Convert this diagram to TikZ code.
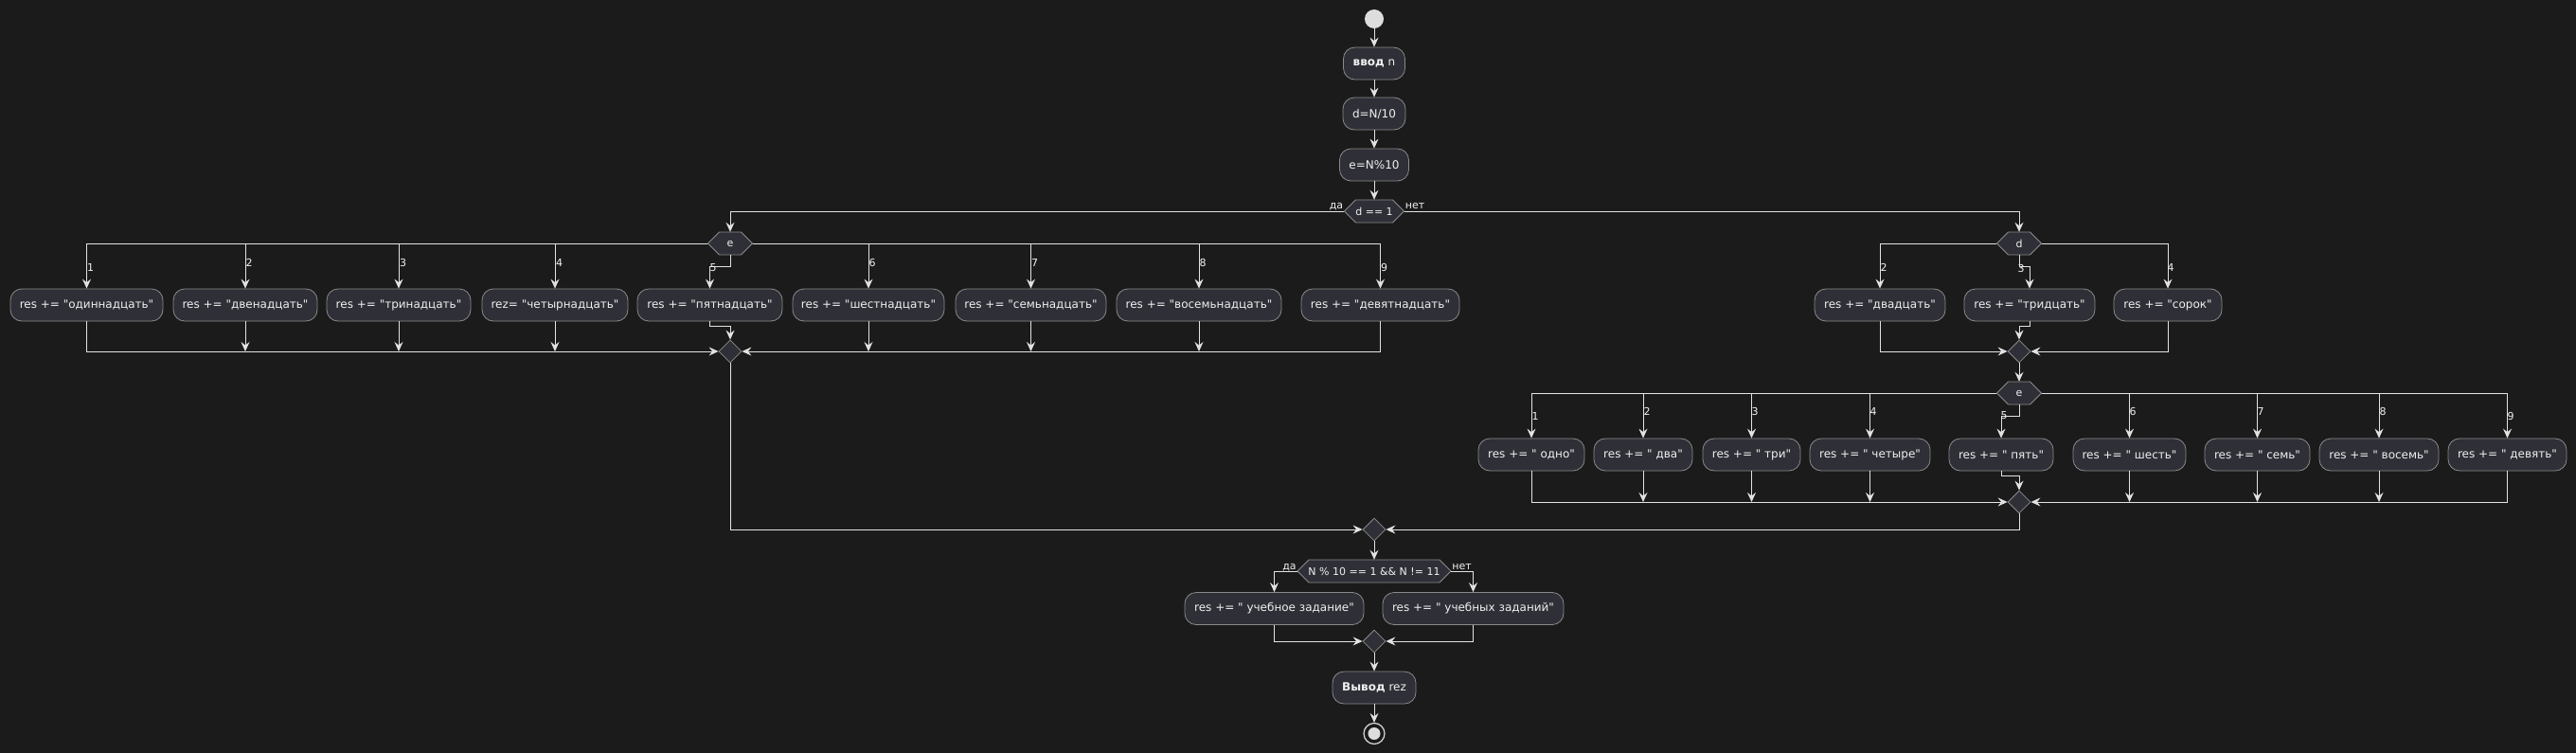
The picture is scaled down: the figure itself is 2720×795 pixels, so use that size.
\documentclass[tikz,border=0pt]{standalone}
\usepackage{fontspec}
\setmainfont{DejaVu Sans}[Ligatures=TeXOff]
\usetikzlibrary{arrows.meta,shapes.geometric}
\definecolor{bg}{HTML}{1B1B1B}
\definecolor{boxfill}{HTML}{2F2F37}
\definecolor{boxline}{HTML}{8A8A8A}
\definecolor{wirec}{HTML}{E2E2E2}
\definecolor{txt}{HTML}{F0F0F0}
\definecolor{dotc}{HTML}{DDDDDD}
\tikzset{
 act/.style={draw=boxline, fill=boxfill, rounded corners=12pt, minimum height=34pt, inner xsep=3pt, inner ysep=0pt, text=txt, font=\fontsize{12}{14}\selectfont, line width=0.8pt},
 merge/.style={diamond, draw=boxline, fill=boxfill, minimum width=24pt, minimum height=24pt, inner sep=0pt, line width=0.8pt},
 hexlbl/.style={minimum height=24pt, inner sep=0pt, text=txt, font=\fontsize{11}{13}\selectfont},
 hexshape/.style={fill=boxfill, draw=boxline, line width=0.8pt},
 wire/.style={draw=wirec, line width=1pt},
 arr/.style={wire, -{Stealth[length=10pt,width=9pt,inset=3.5pt]}},
 lbl/.style={text=txt, font=\fontsize{11}{13}\selectfont, inner sep=0pt},
 startdot/.style={circle, fill=dotc, minimum size=20pt, inner sep=0pt},
}
\newcommand{\hexnode}[5]{%
  \path[hexshape] (#2-#4/2,#3) -- (#2-#4/2+12,#3-12) -- (#2+#4/2-12,#3-12) -- (#2+#4/2,#3) -- (#2+#4/2-12,#3+12) -- (#2-#4/2+12,#3+12) -- cycle;
  \node[hexlbl, minimum width=#4pt] (#1) at (#2,#3) {#5};}
\begin{document}
\begin{tikzpicture}[x=1pt,y=-1pt]
\fill[bg] (0,0) rectangle (2720,795);
\useasboundingbox (0,0) rectangle (2720,795);

% top chain
\node[startdot] (start) at (1451,20) {};
\node[act, minimum width=65pt] (in) at (1451,67) {\textbf{ввод} n};
\node[act, minimum width=66pt] (dN) at (1451,120) {d=N/10};
\node[act, minimum width=73pt] (eN) at (1451,174) {e=N\%10};
\hexnode{d1}{1451}{223}{63}{d == 1}
\hexnode{ea}{771}{257}{47}{e}
\hexnode{dd}{2132}{257}{47}{d}
\hexnode{eb}{2132}{415}{47}{e}
\hexnode{cond}{1451}{603}{162}{N \% 10 == 1 \&\& N != 11}

% left e row
\node[act, minimum width=161pt] (a1) at (91.5,322) {res += "одиннадцать"};
\node[act, minimum width=152pt] (a2) at (259,322) {res += "двенадцать"};
\node[act, minimum width=152pt] (a3) at (421,322) {res += "тринадцать"};
\node[act, minimum width=154pt] (a4) at (586,322) {rez= "четырнадцать"};
\node[act, minimum width=153pt] (a5) at (749.5,322) {res += "пятнадцать"};
\node[act, minimum width=160pt] (a6) at (917,322) {res += "шестнадцать"};
\node[act, minimum width=159pt] (a7) at (1088.5,322) {res += "семьнадцать"};
\node[act, minimum width=174pt] (a8) at (1266,322) {res += "восемьнадцать"};
\node[act, minimum width=167pt] (a9) at (1457.5,322) {res += "девятнадцать"};

% d row
\node[act, minimum width=138pt] (d2) at (1985,322) {res += "двадцать"};
\node[act, minimum width=138pt] (d3) at (2143,322) {res += "тридцать"};
\node[act, minimum width=114pt] (d4) at (2289,322) {res += "сорок"};

% right e row
\node[act, minimum width=112pt] (b1) at (1617,480) {res += " одно"};
\node[act, minimum width=104pt] (b2) at (1735,480) {res += " два"};
\node[act, minimum width=103pt] (b3) at (1849.5,480) {res += " три"};
\node[act, minimum width=127pt] (b4) at (1974.5,480) {res += " четыре"};
\node[act, minimum width=110pt] (b5) at (2113,480) {res += " пять"};
\node[act, minimum width=119pt] (b6) at (2248.5,480) {res += " шесть"};
\node[act, minimum width=111pt] (b7) at (2383.5,480) {res += " семь"};
\node[act, minimum width=126pt] (b8) at (2512,480) {res += " восемь"};
\node[act, minimum width=125pt] (b9) at (2647.5,480) {res += " девять"};

% merges
\node[merge] (ma) at (771,371) {};
\node[merge] (md) at (2132,371) {};
\node[merge] (me) at (2132,530) {};
\node[merge] (mf) at (1451,559) {};
\node[merge] (mg) at (1451,677) {};

% bottom
\node[act, minimum width=189pt] (yes) at (1345.5,642.5) {res += " учебное задание"};
\node[act, minimum width=191pt] (no) at (1555.5,642.5) {res += " учебных заданий"};
\node[act, minimum width=88pt] (out) at (1451,726) {\textbf{Вывод} rez};
\node[circle, draw=dotc, fill=bg, line width=1.2pt, minimum size=22pt, inner sep=0pt] (stop) at (1451,774.5) {};
\node[circle, fill=dotc, minimum size=13pt, inner sep=0pt] (stopdot) at (stop) {};

% top connectors
\draw[arr] (start) -- (in);
\draw[arr] (in) -- (dN);
\draw[arr] (dN) -- (eN);
\draw[arr] (eN) -- (d1.north);
\draw[arr] (d1.west) -| (ea.north);
\draw[arr] (d1.east) -| (dd.north);
\node[lbl, anchor=base east] (lda1) at ([xshift=-1pt,yshift=3pt]d1.west) {да};
\node[lbl, anchor=base west] (lnet1) at ([xshift=1pt,yshift=3pt]d1.east) {нет};

% left e branches
\draw[arr] (ea.west) -| (a1.north);
\draw[arr] (ea.west) -| (a2.north);
\draw[arr] (ea.west) -| (a3.north);
\draw[arr] (ea.west) -| (a4.north);
\draw[arr] (ea.south) -- ++(0,12) -| (a5.north);
\draw[arr] (ea.east) -| (a6.north);
\draw[arr] (ea.east) -| (a7.north);
\draw[arr] (ea.east) -| (a8.north);
\draw[arr] (ea.east) -| (a9.north);
\node[lbl] (la1) at (95.5,282) {1};
\node[lbl] (la2) at (263,277) {2};
\node[lbl] (la3) at (425.5,277) {3};
\node[lbl] (la4) at (590.5,277) {4};
\node[lbl] (la5) at (753,283) {5};
\node[lbl] (la6) at (921,277) {6};
\node[lbl] (la7) at (1092.5,277) {7};
\node[lbl] (la8) at (1270,277) {8};
\node[lbl] (la9) at (1461.5,282) {9};

\draw[arr] (a1.south) |- (ma.west);
\draw[arr] (a2.south) -- (a2.south |- ma.west);
\draw[arr] (a3.south) -- (a3.south |- ma.west);
\draw[arr] (a4.south) -- (a4.south |- ma.west);
\draw[arr] (a5.south) -- ++(0,5) -| (ma.north);
\draw[arr] (a6.south) -- (a6.south |- ma.east);
\draw[arr] (a7.south) -- (a7.south |- ma.east);
\draw[arr] (a8.south) -- (a8.south |- ma.east);
\draw[arr] (a9.south) |- (ma.east);

% d branches
\draw[arr] (dd.west) -| (d2.north);
\draw[arr] (dd.south) -- ++(0,12) -| (d3.north);
\draw[arr] (dd.east) -| (d4.north);
\node[lbl] (ld2) at (1989,282) {2};
\node[lbl] (ld3) at (2134,283) {3};
\node[lbl] (ld4) at (2292,282) {4};
\draw[arr] (d2.south) |- (md.west);
\draw[arr] (d3.south) -- ++(0,5) -| (md.north);
\draw[arr] (d4.south) |- (md.east);
\draw[arr] (md) -- (eb.north);

% right e branches
\draw[arr] (eb.west) -| (b1.north);
\draw[arr] (eb.west) -| (b2.north);
\draw[arr] (eb.west) -| (b3.north);
\draw[arr] (eb.west) -| (b4.north);
\draw[arr] (eb.south) -- ++(0,12) -| (b5.north);
\draw[arr] (eb.east) -| (b6.north);
\draw[arr] (eb.east) -| (b7.north);
\draw[arr] (eb.east) -| (b8.north);
\draw[arr] (eb.east) -| (b9.north);
\node[lbl] (lb1) at (1621,439) {1};
\node[lbl] (lb2) at (1739,434) {2};
\node[lbl] (lb3) at (1853,434) {3};
\node[lbl] (lb4) at (1978,434) {4};
\node[lbl] (lb5) at (2116,439) {5};
\node[lbl] (lb6) at (2252,434) {6};
\node[lbl] (lb7) at (2387,434) {7};
\node[lbl] (lb8) at (2516,434) {8};
\node[lbl] (lb9) at (2651,439) {9};

\draw[arr] (b1.south) |- (me.west);
\draw[arr] (b2.south) -- (b2.south |- me.west);
\draw[arr] (b3.south) -- (b3.south |- me.west);
\draw[arr] (b4.south) -- (b4.south |- me.west);
\draw[arr] (b5.south) -- ++(0,5) -| (me.north);
\draw[arr] (b6.south) -- (b6.south |- me.east);
\draw[arr] (b7.south) -- (b7.south |- me.east);
\draw[arr] (b8.south) -- (b8.south |- me.east);
\draw[arr] (b9.south) |- (me.east);

% final merge and tail
\draw[arr] (ma.south) |- (mf.west);
\draw[arr] (me.south) |- (mf.east);
\draw[arr] (mf) -- (cond.north);
\draw[arr] (cond.west) -| (yes.north);
\draw[arr] (cond.east) -| (no.north);
\node[lbl, anchor=base east] (lda2) at ([xshift=-1pt,yshift=2pt]cond.west) {да};
\node[lbl, anchor=base west] (lnet2) at ([xshift=1pt,yshift=2pt]cond.east) {нет};
\draw[arr] (yes.south) |- (mg.west);
\draw[arr] (no.south) |- (mg.east);
\draw[arr] (mg) -- (out);
\draw[arr] (out) -- (stop);
\end{tikzpicture}
\end{document}
